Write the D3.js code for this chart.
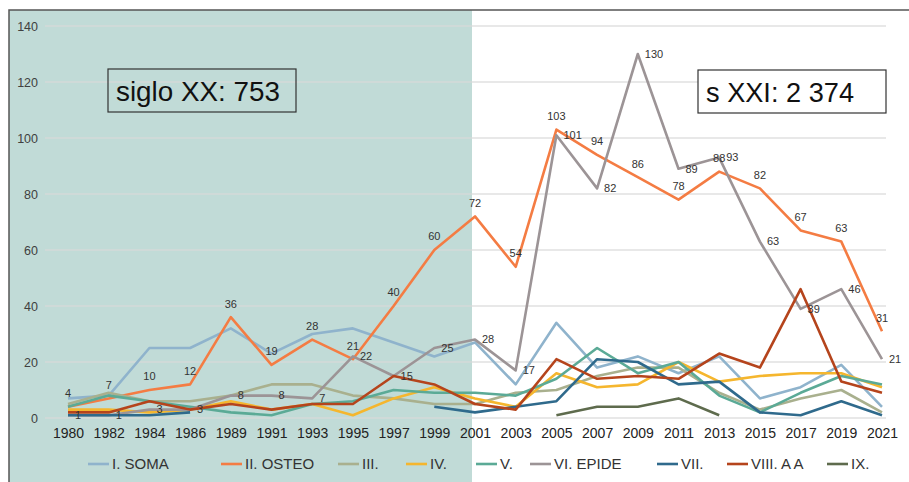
<!DOCTYPE html>
<html>
<head>
<meta charset="utf-8">
<script src="https://cdn.jsdelivr.net/npm/d3@7"></script>
<style>
  body { margin: 0; background: #fff; }
  svg { display: block; font-family: "Liberation Sans", Arial, sans-serif; }
</style>
</head>
<body>
<svg id="chart" width="909" height="482"></svg>
<script>
const years = ['1980', '1982', '1984', '1986', '1989', '1991', '1993', '1995', '1997', '1999', '2001',
  '2003', '2005', '2007', '2009', '2011', '2013', '2015', '2017', '2019', '2021'];

const soma = [7, 8, 25, 25, 32, 23, 30, 32, 27, 22, 27, 12, 34, 18, 22, 16, 22, 7, 11, 19, 4];
const osteo = [4, 7, 10, 12, 36, 19, 28, 21, 40, 60, 72, 54, 103, 94, 86, 78, 88, 82, 67, 63, 31];
const iii = [5, 9, 6, 6, 8, 12, 12, 8, 7, 5, 5, 9, 10, 15, 18, 18, 9, 3, 7, 10, 2];
const iv = [3, 3, 2, 3, 6, 3, 5, 1, 7, 11, 7, 4, 16, 11, 12, 20, 13, 15, 16, 16, 11];
const v = [4, 8, 6, 4, 2, 1, 5, 6, 10, 9, 9, 8, 14, 25, 16, 20, 8, 2, 9, 15, 12];
const epide = [1, 1, 3, 3, 8, 8, 7, 22, 15, 25, 28, 17, 101, 82, 130, 89, 93, 63, 39, 46, 21];
const vii = [1, 1, 1, 2, null, null, null, null, null, 4, 2, 4, 6, 21, 20, 12, 13, 2, 1, 6, 1];
const viiiAA = [2, 2, 6, 3, 5, 3, 5, 5, 15, 12, 5, 3, 21, 14, 15, 14, 23, 18, 46, 13, 9];
const ix = [null, null, null, null, null, null, null, null, null, null, null, null, 1, 4, 4, 7, 1, null, null, null, null];

const seriesNames = ['I. SOMA', 'II. OSTEO', 'III.', 'IV.', 'V.', 'VI. EPIDE', 'VII.', 'VIII. A A', 'IX.'];
const seriesColors = ['#8fb3cc', '#f47c43', '#a9b08e', '#f5b62e', '#5baa96', '#9c9496', '#2f6a8c', '#b5441c', '#5e6b4d'];
const seriesValues = [soma, osteo, iii, iv, v, epide, vii, viiiAA, ix];

const yTicks = [0, 20, 40, 60, 80, 100, 120, 140];
const boxTexts = ['siglo XX: 753', 's XXI: 2 374'];

const svg = d3.select('#chart');

const x = d3.scalePoint().domain(years).range([68, 882]);
const y = d3.scaleLinear().domain([0, 140]).range([418, 26]);

// shaded 20th century block
svg.append('rect')
  .attr('x', 9).attr('y', 10)
  .attr('width', 463).attr('height', 472)
  .attr('fill', '#c1dbd7');

// frame
svg.append('path')
  .attr('d', 'M9,482 V10 H909')
  .attr('fill', 'none')
  .attr('stroke', '#555')
  .attr('stroke-width', 1.5);

// gridlines
svg.append('g')
  .selectAll('line')
  .data(yTicks)
  .join('line')
  .attr('x1', 45).attr('x2', 886)
  .attr('y1', d => y(d)).attr('y2', d => y(d))
  .attr('stroke', '#d9d9d9')
  .attr('stroke-opacity', 0.8)
  .attr('stroke-width', 1.3);

// y axis labels
const yAxis = svg.append('g')
  .attr('transform', 'translate(38,0)')
  .call(d3.axisLeft(y).tickValues(yTicks).tickSize(0).tickPadding(0));
yAxis.select('.domain').remove();
yAxis.selectAll('text')
  .attr('font-size', 12.5)
  .attr('fill', '#404040')
  .attr('font-family', '"Liberation Sans", Arial, sans-serif');

// x axis labels
const xAxis = svg.append('g')
  .attr('transform', 'translate(0,428)')
  .call(d3.axisBottom(x).tickSize(0).tickPadding(0));
xAxis.select('.domain').remove();
xAxis.selectAll('text')
  .attr('font-size', 14)
  .attr('fill', '#222')
  .attr('font-family', '"Liberation Sans", Arial, sans-serif');

// lines
const line = d3.line()
  .defined(d => d != null)
  .x((d, i) => x(years[i]))
  .y(d => y(d));

svg.append('g')
  .selectAll('path')
  .data(seriesValues)
  .join('path')
  .attr('d', d => line(d))
  .attr('fill', 'none')
  .attr('stroke', (d, i) => seriesColors[i])
  .attr('stroke-width', 2.6)
  .attr('stroke-linejoin', 'round');

// data labels: osteo above, epide to the right
svg.append('g')
  .selectAll('text')
  .data(osteo)
  .join('text')
  .attr('x', (d, i) => x(years[i]))
  .attr('y', d => y(d) - 13.5)
  .attr('dy', '0.35em')
  .attr('text-anchor', 'middle')
  .attr('font-size', 11)
  .attr('fill', '#333')
  .text(d => d);

svg.append('g')
  .selectAll('text')
  .data(epide)
  .join('text')
  .attr('x', (d, i) => x(years[i]) + 7)
  .attr('y', d => y(d))
  .attr('dy', '0.35em')
  .attr('font-size', 11)
  .attr('fill', '#333')
  .text(d => d);

// annotation boxes
const boxes = [
  {x: 108, y: 69, w: 188, h: 43, fill: 'none', text: boxTexts[0], tw: 164},
  {x: 698, y: 70, w: 188, h: 43, fill: '#fff', text: boxTexts[1], tw: 148}
];
const boxG = svg.append('g')
  .selectAll('g')
  .data(boxes)
  .join('g');
boxG.append('rect')
  .attr('x', d => d.x).attr('y', d => d.y)
  .attr('width', d => d.w).attr('height', d => d.h)
  .attr('fill', d => d.fill)
  .attr('stroke', '#333')
  .attr('stroke-width', 1.2);
boxG.append('text')
  .attr('x', d => d.x + 8)
  .attr('y', d => d.y + 32)
  .attr('font-size', 27)
  .attr('fill', '#111')
  .attr('textLength', d => d.tw)
  .attr('lengthAdjust', 'spacingAndGlyphs')
  .text(d => d.text);

// legend
const legendX = [88, 221, 338, 406, 476, 530, 657, 727, 827];
const legend = svg.append('g')
  .selectAll('g')
  .data(seriesNames)
  .join('g')
  .attr('transform', (d, i) => `translate(${legendX[i]},464)`);
legend.append('line')
  .attr('x1', 0).attr('x2', 21)
  .attr('stroke', (d, i) => seriesColors[i])
  .attr('stroke-width', 2.6);
legend.append('text')
  .attr('x', 24)
  .attr('dy', '0.35em')
  .attr('font-size', 15)
  .attr('fill', '#333')
  .text(d => d);
</script>
</body>
</html>
